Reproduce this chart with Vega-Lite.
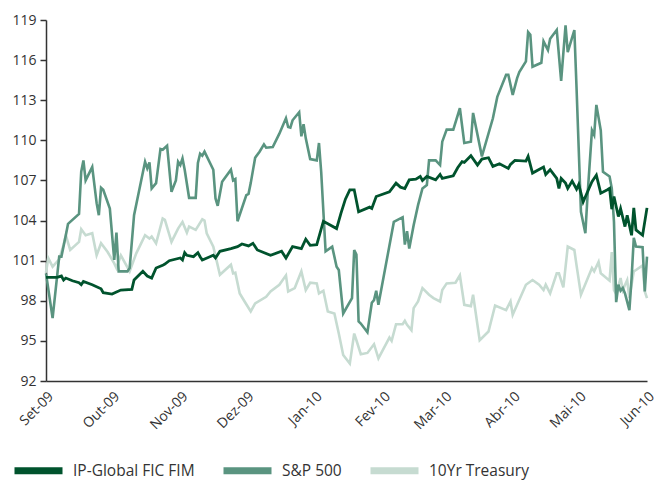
{
"$schema":"https://vega.github.io/schema/vega-lite/v6.json",
"width":601,"height":361,
"autosize":{"type":"none"},
"padding":{"left":46,"top":20,"right":14,"bottom":99},
"config":{"view":{"stroke":null},"font":"Open Sans"},
"datasets":{
"tr":[
{"d":"2009-09-01","v":100.1},{"d":"2009-09-02","v":101.2},{"d":"2009-09-04","v":100.55},{"d":"2009-09-07","v":101.1},{"d":"2009-09-09","v":102.2},{"d":"2009-09-10","v":102.9},{"d":"2009-09-12","v":101.8},{"d":"2009-09-16","v":102.4},{"d":"2009-09-17","v":103.35},{"d":"2009-09-19","v":102.9},{"d":"2009-09-22","v":103.05},{"d":"2009-09-24","v":101.4},{"d":"2009-09-26","v":102.3},{"d":"2009-09-29","v":101.65},
{"d":"2009-10-02","v":100.8},{"d":"2009-10-03","v":100.45},{"d":"2009-10-05","v":101.4},{"d":"2009-10-09","v":100.2},{"d":"2009-10-12","v":101.55},{"d":"2009-10-16","v":102.9},{"d":"2009-10-18","v":102.65},{"d":"2009-10-19","v":102.8},{"d":"2009-10-21","v":102.3},{"d":"2009-10-24","v":104.15},{"d":"2009-10-25","v":104.05},{"d":"2009-10-28","v":102.4},{"d":"2009-10-31","v":103.4},
{"d":"2009-11-02","v":103.9},{"d":"2009-11-04","v":103.1},{"d":"2009-11-05","v":103.55},{"d":"2009-11-08","v":103.3},{"d":"2009-11-11","v":104.1},{"d":"2009-11-12","v":104.0},{"d":"2009-11-13","v":103.05},{"d":"2009-11-16","v":102.05},{"d":"2009-11-19","v":99.95},{"d":"2009-11-24","v":100.7},{"d":"2009-11-25","v":100.05},{"d":"2009-11-26","v":100.1},{"d":"2009-11-28","v":98.55},{"d":"2009-11-30","v":98.0},
{"d":"2009-12-03","v":97.2},{"d":"2009-12-05","v":97.8},{"d":"2009-12-10","v":98.3},{"d":"2009-12-12","v":98.7},{"d":"2009-12-16","v":99.2},{"d":"2009-12-19","v":99.9},{"d":"2009-12-20","v":98.7},{"d":"2009-12-23","v":98.95},{"d":"2009-12-26","v":100.2},{"d":"2009-12-28","v":98.8},{"d":"2009-12-30","v":99.35},
{"d":"2010-01-02","v":99.3},{"d":"2010-01-03","v":98.55},{"d":"2010-01-05","v":98.75},{"d":"2010-01-07","v":97.2},{"d":"2010-01-10","v":97.05},{"d":"2010-01-12","v":95.55},{"d":"2010-01-14","v":93.95},{"d":"2010-01-17","v":93.3},{"d":"2010-01-19","v":95.55},{"d":"2010-01-20","v":95.05},{"d":"2010-01-22","v":94.0},{"d":"2010-01-25","v":94.1},{"d":"2010-01-28","v":94.75},{"d":"2010-01-30","v":93.7},
{"d":"2010-02-04","v":95.25},{"d":"2010-02-05","v":95.0},{"d":"2010-02-07","v":96.25},{"d":"2010-02-10","v":96.25},{"d":"2010-02-11","v":96.5},{"d":"2010-02-12","v":96.2},{"d":"2010-02-14","v":95.8},{"d":"2010-02-15","v":97.45},{"d":"2010-02-17","v":97.95},{"d":"2010-02-19","v":98.95},{"d":"2010-02-22","v":98.45},{"d":"2010-02-24","v":98.2},{"d":"2010-02-27","v":97.95},{"d":"2010-02-28","v":98.8},
{"d":"2010-03-02","v":99.3},{"d":"2010-03-06","v":99.35},{"d":"2010-03-08","v":99.9},{"d":"2010-03-10","v":97.7},{"d":"2010-03-13","v":97.6},{"d":"2010-03-14","v":98.45},{"d":"2010-03-17","v":95.05},{"d":"2010-03-21","v":95.7},{"d":"2010-03-24","v":97.65},{"d":"2010-03-29","v":97.3},{"d":"2010-03-31","v":97.95},
{"d":"2010-04-01","v":96.95},{"d":"2010-04-07","v":99.2},{"d":"2010-04-10","v":99.55},{"d":"2010-04-13","v":99.2},{"d":"2010-04-15","v":98.8},{"d":"2010-04-16","v":99.2},{"d":"2010-04-18","v":98.55},{"d":"2010-04-21","v":100.05},{"d":"2010-04-22","v":100.05},{"d":"2010-04-24","v":99.0},{"d":"2010-04-26","v":102.05},{"d":"2010-04-29","v":101.8},{"d":"2010-04-30","v":100.65},
{"d":"2010-05-02","v":98.45},{"d":"2010-05-07","v":100.45},{"d":"2010-05-08","v":100.2},{"d":"2010-05-10","v":100.9},{"d":"2010-05-11","v":100.05},{"d":"2010-05-15","v":99.5},{"d":"2010-05-16","v":101.65},{"d":"2010-05-17","v":98.8},{"d":"2010-05-18","v":98.5},{"d":"2010-05-20","v":99.7},{"d":"2010-05-21","v":98.8},{"d":"2010-05-23","v":99.55},{"d":"2010-05-24","v":98.2},{"d":"2010-05-26","v":100.2},{"d":"2010-05-27","v":100.3},{"d":"2010-05-30","v":100.65},{"d":"2010-05-31","v":98.7},{"d":"2010-06-01","v":98.2}
],
"sp":[
{"d":"2009-09-01","v":100.05},{"d":"2009-09-04","v":96.7},{"d":"2009-09-07","v":101.3},{"d":"2009-09-08","v":101.3},{"d":"2009-09-10","v":102.9},{"d":"2009-09-11","v":103.75},{"d":"2009-09-16","v":104.5},{"d":"2009-09-17","v":107.65},{"d":"2009-09-18","v":108.5},{"d":"2009-09-19","v":107.0},{"d":"2009-09-22","v":108.0},{"d":"2009-09-24","v":105.3},{"d":"2009-09-25","v":104.4},{"d":"2009-09-26","v":106.45},{"d":"2009-09-27","v":106.3},{"d":"2009-09-30","v":104.9},
{"d":"2009-10-02","v":101.05},{"d":"2009-10-03","v":103.1},{"d":"2009-10-04","v":100.2},{"d":"2009-10-08","v":100.2},{"d":"2009-10-09","v":100.45},{"d":"2009-10-11","v":104.4},{"d":"2009-10-16","v":108.4},{"d":"2009-10-17","v":107.9},{"d":"2009-10-18","v":108.35},{"d":"2009-10-19","v":106.4},{"d":"2009-10-21","v":106.8},{"d":"2009-10-23","v":109.35},{"d":"2009-10-24","v":109.3},{"d":"2009-10-26","v":109.6},{"d":"2009-10-28","v":106.15},{"d":"2009-10-30","v":107.0},{"d":"2009-10-31","v":108.4},
{"d":"2009-11-01","v":108.15},{"d":"2009-11-02","v":108.65},{"d":"2009-11-03","v":107.8},{"d":"2009-11-05","v":105.7},{"d":"2009-11-08","v":105.7},{"d":"2009-11-09","v":108.3},{"d":"2009-11-10","v":109.0},{"d":"2009-11-11","v":108.85},{"d":"2009-11-12","v":109.15},{"d":"2009-11-16","v":107.8},{"d":"2009-11-17","v":105.65},{"d":"2009-11-18","v":105.1},{"d":"2009-11-20","v":106.9},{"d":"2009-11-24","v":107.8},{"d":"2009-11-25","v":107.0},{"d":"2009-11-26","v":107.1},{"d":"2009-11-27","v":103.95},
{"d":"2009-12-01","v":105.9},{"d":"2009-12-02","v":106.0},{"d":"2009-12-03","v":106.8},{"d":"2009-12-05","v":108.7},{"d":"2009-12-07","v":109.15},{"d":"2009-12-09","v":109.7},{"d":"2009-12-10","v":109.45},{"d":"2009-12-13","v":109.5},{"d":"2009-12-16","v":110.5},{"d":"2009-12-19","v":111.65},{"d":"2009-12-20","v":111.0},{"d":"2009-12-21","v":110.95},{"d":"2009-12-22","v":111.5},{"d":"2009-12-25","v":112.1},{"d":"2009-12-26","v":110.3},{"d":"2009-12-27","v":111.2},{"d":"2009-12-28","v":110.15},{"d":"2009-12-30","v":108.6},
{"d":"2010-01-02","v":108.5},{"d":"2010-01-03","v":109.8},{"d":"2010-01-04","v":107.65},{"d":"2010-01-06","v":101.7},{"d":"2010-01-09","v":102.05},{"d":"2010-01-11","v":100.55},{"d":"2010-01-12","v":100.3},{"d":"2010-01-14","v":97.05},{"d":"2010-01-18","v":98.2},{"d":"2010-01-19","v":101.8},{"d":"2010-01-20","v":101.45},{"d":"2010-01-21","v":96.45},{"d":"2010-01-22","v":96.3},{"d":"2010-01-25","v":95.65},{"d":"2010-01-27","v":97.85},{"d":"2010-01-28","v":98.05},{"d":"2010-01-29","v":98.75},{"d":"2010-01-30","v":97.7},
{"d":"2010-02-06","v":103.9},{"d":"2010-02-10","v":104.25},{"d":"2010-02-11","v":102.2},{"d":"2010-02-12","v":103.2},{"d":"2010-02-13","v":101.9},{"d":"2010-02-15","v":103.65},{"d":"2010-02-17","v":105.15},{"d":"2010-02-19","v":106.4},{"d":"2010-02-21","v":106.65},{"d":"2010-02-22","v":108.5},{"d":"2010-02-25","v":108.5},{"d":"2010-02-27","v":108.15},{"d":"2010-02-28","v":109.9},
{"d":"2010-03-02","v":110.8},{"d":"2010-03-05","v":110.8},{"d":"2010-03-08","v":112.4},{"d":"2010-03-10","v":109.8},{"d":"2010-03-13","v":109.9},{"d":"2010-03-14","v":112.05},{"d":"2010-03-18","v":108.8},{"d":"2010-03-23","v":111.65},{"d":"2010-03-25","v":113.25},{"d":"2010-03-29","v":114.9},{"d":"2010-03-30","v":114.9},
{"d":"2010-04-01","v":113.4},{"d":"2010-04-03","v":114.65},{"d":"2010-04-04","v":115.1},{"d":"2010-04-07","v":115.9},{"d":"2010-04-08","v":118.1},{"d":"2010-04-09","v":117.9},{"d":"2010-04-10","v":115.5},{"d":"2010-04-14","v":115.8},{"d":"2010-04-15","v":117.4},{"d":"2010-04-17","v":116.75},{"d":"2010-04-18","v":117.6},{"d":"2010-04-21","v":118.25},{"d":"2010-04-23","v":114.45},{"d":"2010-04-25","v":118.6},{"d":"2010-04-26","v":116.6},{"d":"2010-04-29","v":118.25},{"d":"2010-04-30","v":113.9},
{"d":"2010-05-02","v":104.65},{"d":"2010-05-04","v":103.05},{"d":"2010-05-05","v":105.9},{"d":"2010-05-07","v":110.75},{"d":"2010-05-08","v":110.4},{"d":"2010-05-09","v":112.65},{"d":"2010-05-11","v":110.75},{"d":"2010-05-12","v":107.65},{"d":"2010-05-15","v":107.3},{"d":"2010-05-16","v":106.4},{"d":"2010-05-17","v":103.9},{"d":"2010-05-18","v":97.9},{"d":"2010-05-19","v":99.2},{"d":"2010-05-20","v":98.75},{"d":"2010-05-21","v":98.95},{"d":"2010-05-22","v":98.55},{"d":"2010-05-24","v":97.3},{"d":"2010-05-25","v":99.7},{"d":"2010-05-26","v":102.7},{"d":"2010-05-27","v":102.05},{"d":"2010-05-30","v":102.0},{"d":"2010-05-31","v":98.7},{"d":"2010-06-01","v":101.3}
],
"ip":[
{"d":"2009-09-01","v":99.75},{"d":"2009-09-06","v":99.75},{"d":"2009-09-08","v":99.85},{"d":"2009-09-09","v":99.55},{"d":"2009-09-10","v":99.7},{"d":"2009-09-13","v":99.5},{"d":"2009-09-16","v":99.35},{"d":"2009-09-17","v":99.2},{"d":"2009-09-18","v":99.45},{"d":"2009-09-22","v":99.2},{"d":"2009-09-26","v":98.9},{"d":"2009-09-27","v":98.6},
{"d":"2009-10-01","v":98.5},{"d":"2009-10-03","v":98.65},{"d":"2009-10-05","v":98.8},{"d":"2009-10-10","v":98.85},{"d":"2009-10-11","v":99.55},{"d":"2009-10-15","v":100.2},{"d":"2009-10-17","v":99.85},{"d":"2009-10-19","v":99.7},{"d":"2009-10-21","v":100.45},{"d":"2009-10-24","v":100.65},{"d":"2009-10-25","v":100.75},{"d":"2009-10-27","v":101.0},
{"d":"2009-11-01","v":101.2},{"d":"2009-11-02","v":101.05},{"d":"2009-11-03","v":101.6},{"d":"2009-11-04","v":101.4},{"d":"2009-11-07","v":101.3},{"d":"2009-11-09","v":101.6},{"d":"2009-11-10","v":101.3},{"d":"2009-11-11","v":101.05},{"d":"2009-11-16","v":101.4},{"d":"2009-11-17","v":101.2},{"d":"2009-11-19","v":101.7},{"d":"2009-11-24","v":101.9},{"d":"2009-11-27","v":102.05},{"d":"2009-11-29","v":102.25},
{"d":"2009-12-02","v":102.1},{"d":"2009-12-04","v":102.3},{"d":"2009-12-06","v":101.8},{"d":"2009-12-12","v":101.4},{"d":"2009-12-17","v":101.7},{"d":"2009-12-19","v":101.2},{"d":"2009-12-22","v":102.05},{"d":"2009-12-26","v":101.9},{"d":"2009-12-28","v":102.6},{"d":"2009-12-30","v":102.15},
{"d":"2010-01-02","v":102.2},{"d":"2010-01-05","v":103.95},{"d":"2010-01-11","v":103.4},{"d":"2010-01-13","v":104.55},{"d":"2010-01-15","v":105.6},{"d":"2010-01-17","v":106.3},{"d":"2010-01-19","v":106.3},{"d":"2010-01-21","v":104.65},{"d":"2010-01-26","v":105.0},{"d":"2010-01-27","v":104.9},{"d":"2010-01-29","v":105.8},
{"d":"2010-02-04","v":106.15},{"d":"2010-02-07","v":106.8},{"d":"2010-02-09","v":106.5},{"d":"2010-02-11","v":106.4},{"d":"2010-02-13","v":107.05},{"d":"2010-02-16","v":107.1},{"d":"2010-02-18","v":107.3},{"d":"2010-02-19","v":107.0},{"d":"2010-02-21","v":107.3},{"d":"2010-02-25","v":107.05},{"d":"2010-02-27","v":107.45},{"d":"2010-02-28","v":107.15},
{"d":"2010-03-05","v":107.35},{"d":"2010-03-07","v":107.95},{"d":"2010-03-09","v":108.4},{"d":"2010-03-10","v":108.35},{"d":"2010-03-13","v":108.85},{"d":"2010-03-16","v":108.15},{"d":"2010-03-18","v":108.6},{"d":"2010-03-21","v":108.7},{"d":"2010-03-23","v":108.05},{"d":"2010-03-26","v":108.25},{"d":"2010-03-30","v":107.9},{"d":"2010-03-31","v":108.2},
{"d":"2010-04-02","v":108.5},{"d":"2010-04-07","v":108.45},{"d":"2010-04-08","v":108.8},{"d":"2010-04-10","v":107.55},{"d":"2010-04-15","v":108.0},{"d":"2010-04-16","v":107.45},{"d":"2010-04-18","v":107.8},{"d":"2010-04-21","v":107.15},{"d":"2010-04-22","v":106.4},{"d":"2010-04-23","v":107.15},{"d":"2010-04-25","v":106.8},{"d":"2010-04-26","v":106.4},{"d":"2010-04-28","v":106.95},{"d":"2010-04-30","v":106.35},
{"d":"2010-05-01","v":106.7},{"d":"2010-05-03","v":105.4},{"d":"2010-05-05","v":106.15},{"d":"2010-05-07","v":106.9},{"d":"2010-05-09","v":107.4},{"d":"2010-05-11","v":106.05},{"d":"2010-05-14","v":106.3},{"d":"2010-05-15","v":106.4},{"d":"2010-05-16","v":104.85},{"d":"2010-05-17","v":105.8},{"d":"2010-05-19","v":104.3},{"d":"2010-05-20","v":104.9},{"d":"2010-05-22","v":103.55},{"d":"2010-05-23","v":104.4},{"d":"2010-05-25","v":102.9},{"d":"2010-05-26","v":104.95},{"d":"2010-05-27","v":103.3},{"d":"2010-05-30","v":102.9},{"d":"2010-06-01","v":104.95}
]
},
"encoding":{
"x":{"field":"d","type":"temporal",
"scale":{"type":"utc","domain":[{"year":2009,"month":9,"date":1,"utc":true},{"year":2010,"month":6,"date":1,"utc":true}]},
"axis":{"title":null,"values":[{"year":2009,"month":9,"date":1,"utc":true},{"year":2009,"month":10,"date":1,"utc":true},{"year":2009,"month":11,"date":1,"utc":true},{"year":2009,"month":12,"date":1,"utc":true},{"year":2010,"month":1,"date":1,"utc":true},{"year":2010,"month":2,"date":1,"utc":true},{"year":2010,"month":3,"date":1,"utc":true},{"year":2010,"month":4,"date":1,"utc":true},{"year":2010,"month":5,"date":1,"utc":true},{"year":2010,"month":6,"date":1,"utc":true}],
"labelExpr":"['Jan','Fev','Mar','Abr','Mai','Jun','Jul','Ago','Set','Out','Nov','Dez'][utcmonth(datum.value)] + '-' + utcFormat(datum.value, '%y')",
"labelAngle":-45,"ticks":false,"grid":false,"labelFontSize":14,"labelColor":"#333333","domainColor":"#333333","domainWidth":1.5,"labelPadding":8,"labelOverlap":false,"labelFlush":false,"labelBound":false}},
"y":{"field":"v","type":"quantitative",
"scale":{"domain":[92,119],"nice":false,"zero":false},
"axis":{"title":null,"values":[92,95,98,101,104,107,110,113,116,119],"tickSize":6,"labelPadding":4,"labelFontSize":14,"grid":false,"domainColor":"#333333","tickColor":"#333333","labelColor":"#333333","domainWidth":1.5,"tickWidth":1.5,"labelFlush":false}}
},
"layer":[
{"data":{"name":"tr"},"mark":{"type":"line","strokeWidth":2.6},
"encoding":{"color":{"datum":"10Yr Treasury","type":"nominal",
"scale":{"domain":["IP-Global FIC FIM","S&P 500","10Yr Treasury"],"range":["#00532d","#5a9480","#c6dbd1"]},
"legend":{"title":null,"orient":"none","legendX":-35,"legendY":423,"direction":"horizontal","symbolType":"stroke","symbolSize":2304,"symbolStrokeWidth":7,"labelFontSize":15.5,"labelColor":"#333333","columnPadding":14,"labelOffset":7}}}},
{"data":{"name":"sp"},"mark":{"type":"line","strokeWidth":2.6},
"encoding":{"color":{"datum":"S&P 500","type":"nominal"}}},
{"data":{"name":"ip"},"mark":{"type":"line","strokeWidth":2.8},
"encoding":{"color":{"datum":"IP-Global FIC FIM","type":"nominal"}}}
]
}
